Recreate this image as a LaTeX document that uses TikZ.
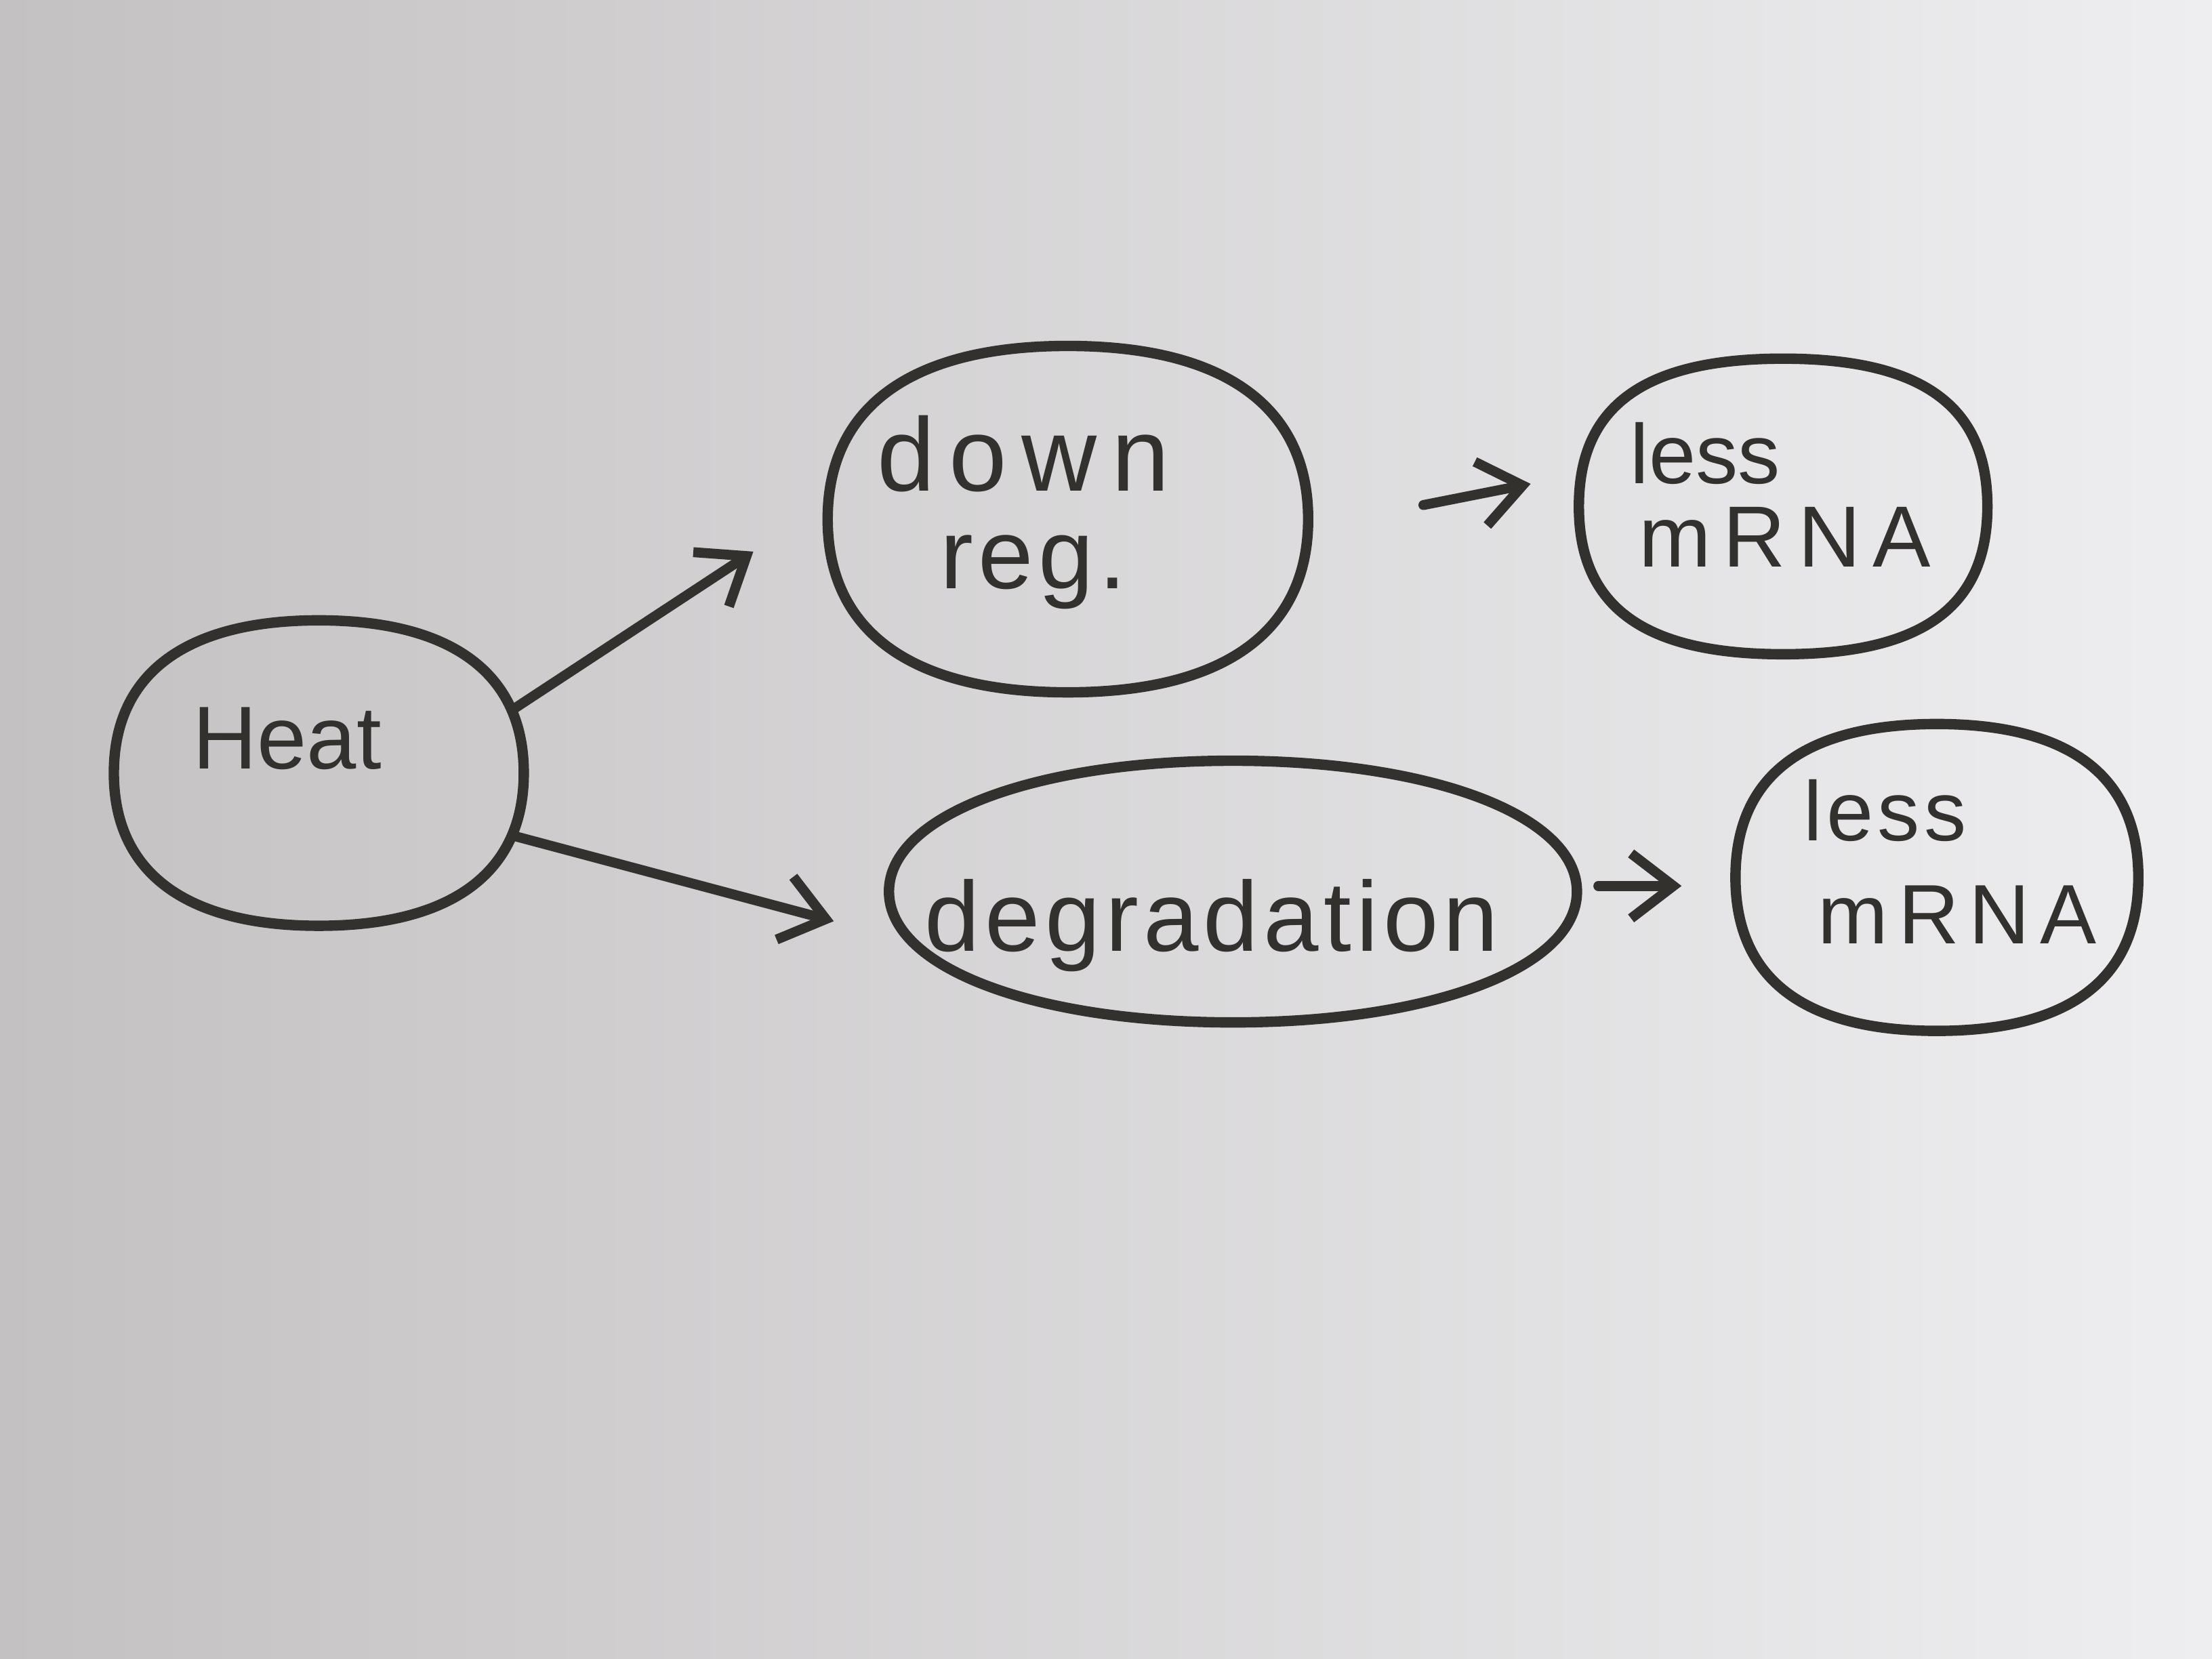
\documentclass[tikz,border=0pt]{standalone}
\usepackage{fontspec}
\setmainfont{Liberation Sans}
\usetikzlibrary{calc,arrows.meta}
\definecolor{ink}{RGB}{50,49,46}
\definecolor{paperL}{RGB}{196,193,194}
\definecolor{paperM}{RGB}{224,223,225}
\definecolor{paperR}{RGB}{238,238,240}
\tikzset{
  blob/.style={rectangle, inner sep=0pt},
  outline/.style={draw=ink, line width=2.1pt},
  txt/.style={anchor=base west, inner sep=0pt, text=ink},
  arr/.style={draw=ink, line width=2pt, line cap=round,
    -{Straight Barb[length=3mm,width=4.6mm,line width=2pt]}},
}
\newcommand\blobline[2]{%
  \draw[outline] (#1.north)
   .. controls ($(#1.north)!#2!(#1.north east)$) and ($(#1.east)!#2!(#1.north east)$) .. (#1.east)
   .. controls ($(#1.east)!#2!(#1.south east)$) and ($(#1.south)!#2!(#1.south east)$) .. (#1.south)
   .. controls ($(#1.south)!#2!(#1.south west)$) and ($(#1.west)!#2!(#1.south west)$) .. (#1.west)
   .. controls ($(#1.west)!#2!(#1.north west)$) and ($(#1.north)!#2!(#1.north west)$) .. cycle;}
\newfontfamily\hand[LetterSpace=5]{Liberation Sans}
\newfontfamily\handw[LetterSpace=14]{Liberation Sans}
\newfontfamily\handm[LetterSpace=12]{Liberation Sans}
\begin{document}
\begin{tikzpicture}[x=0.01cm,y=-0.01cm]
\shade[left color=paperL, middle color=paperM, right color=paperR] (0,0) rectangle (1568,1176);
\useasboundingbox (0,0) rectangle (1568,1176);

% shapes
\node[blob, minimum width=2.89cm, minimum height=2.15cm] (heat) at (226,548) {};
\node[blob, minimum width=3.39cm, minimum height=2.44cm] (down) at (757,368) {};
\node[blob, minimum width=2.88cm, minimum height=2.08cm] (lessA) at (1264,359) {};
\node[blob, minimum width=4.86cm, minimum height=1.84cm] (degr) at (874,632) {};
\node[blob, minimum width=2.84cm, minimum height=2.16cm] (lessB) at (1373,622) {};
\blobline{heat}{0.65}
\blobline{down}{0.65}
\blobline{lessA}{0.68}
\blobline{degr}{0.58}
\blobline{lessB}{0.66}

% texts
\node[txt, font=\fontsize{18}{20}\selectfont] (heatT) at (136,545) {Heat};
\node[txt, font=\handw\fontsize{21}{22}\selectfont] (downT) at (621,348) {down};
\node[txt, font=\hand\fontsize{20}{22}\selectfont] (regT) at (666,417) {reg.};
\node[txt, font=\fontsize{17}{20}\selectfont] (lessAT) at (1155,343) {less};
\node[txt, font=\handw\fontsize{17.5}{20}\selectfont] (mrnaAT) at (1161,402) {mRNA};
\node[txt, font=\hand\fontsize{17}{20}\selectfont] (lessBT) at (1278,596) {less};
\node[txt, font=\handm\fontsize{17}{20}\selectfont] (mrnaBT) at (1288,669) {mRNA};
\node[txt, font=\hand\fontsize{20}{22}\selectfont] (degrT) at (655,674) {degradation};

% connectors
\draw[arr] ([shift={(139,-46)}]heat.center) -- ([shift={(-223,23)}]down.center);
\draw[arr] ([shift={(140,45)}]heat.center) -- ([shift={(-283,21)}]degr.center);
\draw[arr] ([shift={(252,-10)}]down.center) -- ([shift={(-179,-16)}]lessA.center);
\draw[arr] ([shift={(259,-4)}]degr.center) -- ([shift={(-181,6)}]lessB.center);
\end{tikzpicture}
\end{document}
